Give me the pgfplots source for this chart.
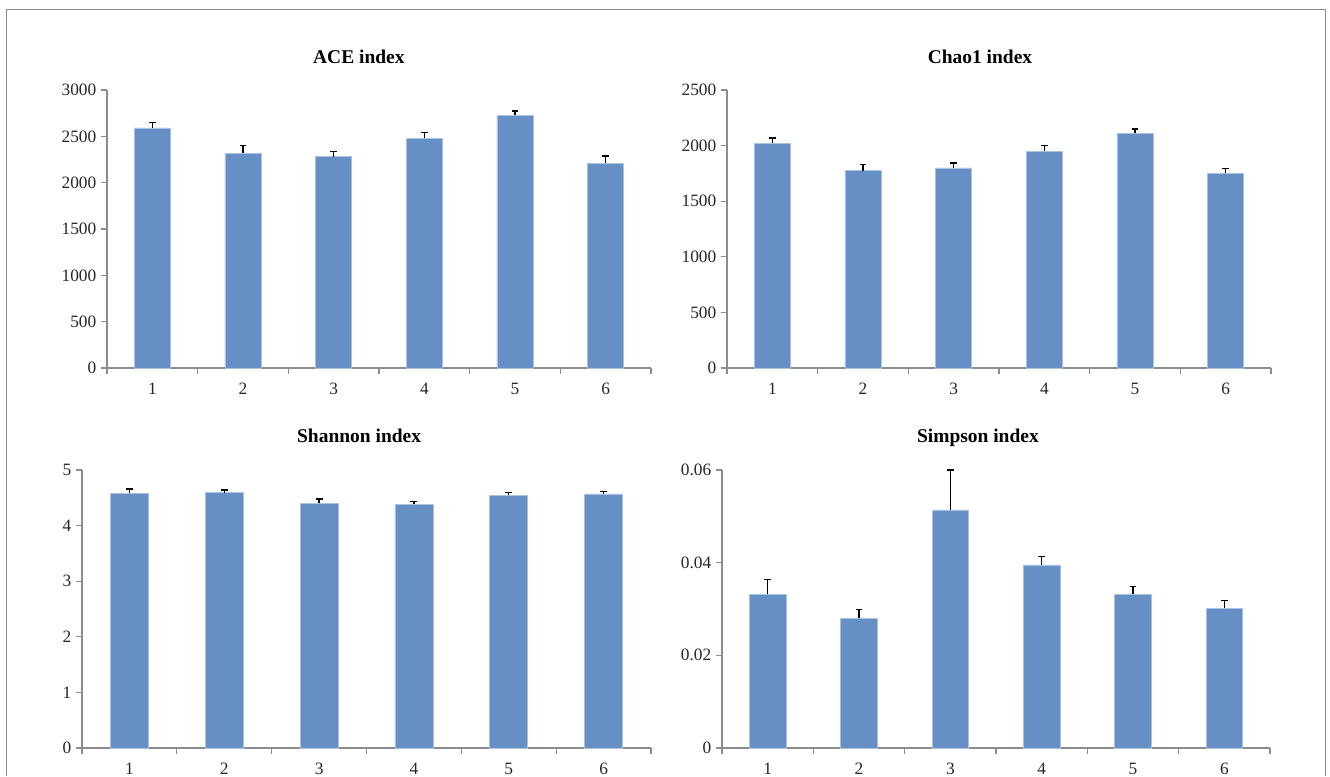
\documentclass[border=0pt]{standalone}
\usepackage{pgfplots}
\pgfplotsset{compat=1.18}
\usepackage{fontspec}
\setmainfont{Liberation Serif}
\definecolor{barblue}{RGB}{102,143,198}
\definecolor{baredge}{RGB}{170,195,228}
\definecolor{axgray}{RGB}{140,140,140}
\definecolor{framegray}{RGB}{140,140,140}

\pgfplotstableread{
x y e
1 2590 58
2 2320 85
3 2280 60
4 2480 65
5 2730 43
6 2210 78
}\ace
\pgfplotstableread{
x y e
1 2020 48
2 1775 57
3 1800 43
4 1950 50
5 2113 36
6 1750 45
}\chao
\pgfplotstableread{
x y e
1 4.58 0.08
2 4.59 0.05
3 4.40 0.08
4 4.38 0.06
5 4.55 0.04
6 4.57 0.04
}\shannon
\pgfplotstableread{
x y e
1 0.0332 0.0032
2 0.0280 0.0019
3 0.0514 0.0086
4 0.0395 0.0019
5 0.0332 0.0016
6 0.0302 0.0016
}\simpson

\pgfplotsset{
  panel/.style={
    scale only axis,
    height=208.5pt,
    axis lines*=left,
    axis line style={axgray, line width=0.9pt},
    every tick/.style={axgray, line width=0.9pt},
    tick align=outside,
    major tick length=4.5pt,
    xmin=0.5, xmax=6.5,
    xtick={0.5,1.5,...,6.5},
    x tick label as interval,
    xticklabels={1,2,3,4,5,6},
    ymin=0,
    tick label style={font=\fontsize{13pt}{14pt}\selectfont, text=black!85},
    xticklabel style={yshift=-3.5pt},
    /pgf/number format/assume math mode=true,
    /pgf/number format/1000 sep={},
    clip=false,
  },
  bars/.style={
    ybar, bar width=0.4, bar shift=0pt,
    fill=barblue, draw=baredge, line width=0.5pt,
    error bars/.cd, y dir=plus, y explicit,
    error bar style={black, line width=0.9pt},
    error mark options={rotate=90, mark size=2.6pt, black, line width=0.9pt},
  },
}
\newcommand{\paneltitle}[3]{\node[anchor=base, font=\fontsize{14.6pt}{16pt}\selectfont\bfseries] at ([yshift=#2]rel axis cs:#1,1) {#3};}

\begin{document}
\begin{tikzpicture}
\useasboundingbox (0,0) rectangle (997.5pt,582pt);
\draw[framegray, line width=1.1pt] (4.9pt,0) -- (4.9pt,575pt) -- (994.2pt,575pt) -- (994.2pt,0);

% ACE
\begin{axis}[panel, at={(80.25pt,306pt)}, anchor=south west, width=408pt,
  ymax=3000, ytick={0,500,...,3000}]
\addplot[bars] table[x=x, y=y, y error=e] {\ace};
\paneltitle{0.463}{20pt}{ACE index}
\end{axis}

% Chao1
\begin{axis}[panel, at={(545.25pt,306pt)}, anchor=south west, width=408pt,
  ymax=2500, ytick={0,500,...,2500}]
\addplot[bars] table[x=x, y=y, y error=e] {\chao};
\paneltitle{0.465}{20pt}{Chao1 index}
\end{axis}

% Shannon
\begin{axis}[panel, at={(61.5pt,21pt)}, anchor=south west, width=426.75pt,
  ymax=5, ytick={0,1,...,5}]
\addplot[bars] table[x=x, y=y, y error=e] {\shannon};
\paneltitle{0.487}{21pt}{Shannon index}
\end{axis}

% Simpson
\begin{axis}[panel, at={(541.5pt,21pt)}, anchor=south west, width=411pt,
  ymax=0.06, ytick={0,0.02,0.04,0.06}, scaled y ticks=false,
  yticklabels={0,0.02,0.04,0.06}]
\addplot[bars] table[x=x, y=y, y error=e] {\simpson};
\paneltitle{0.467}{21pt}{Simpson index}
\end{axis}
\end{tikzpicture}
\end{document}
